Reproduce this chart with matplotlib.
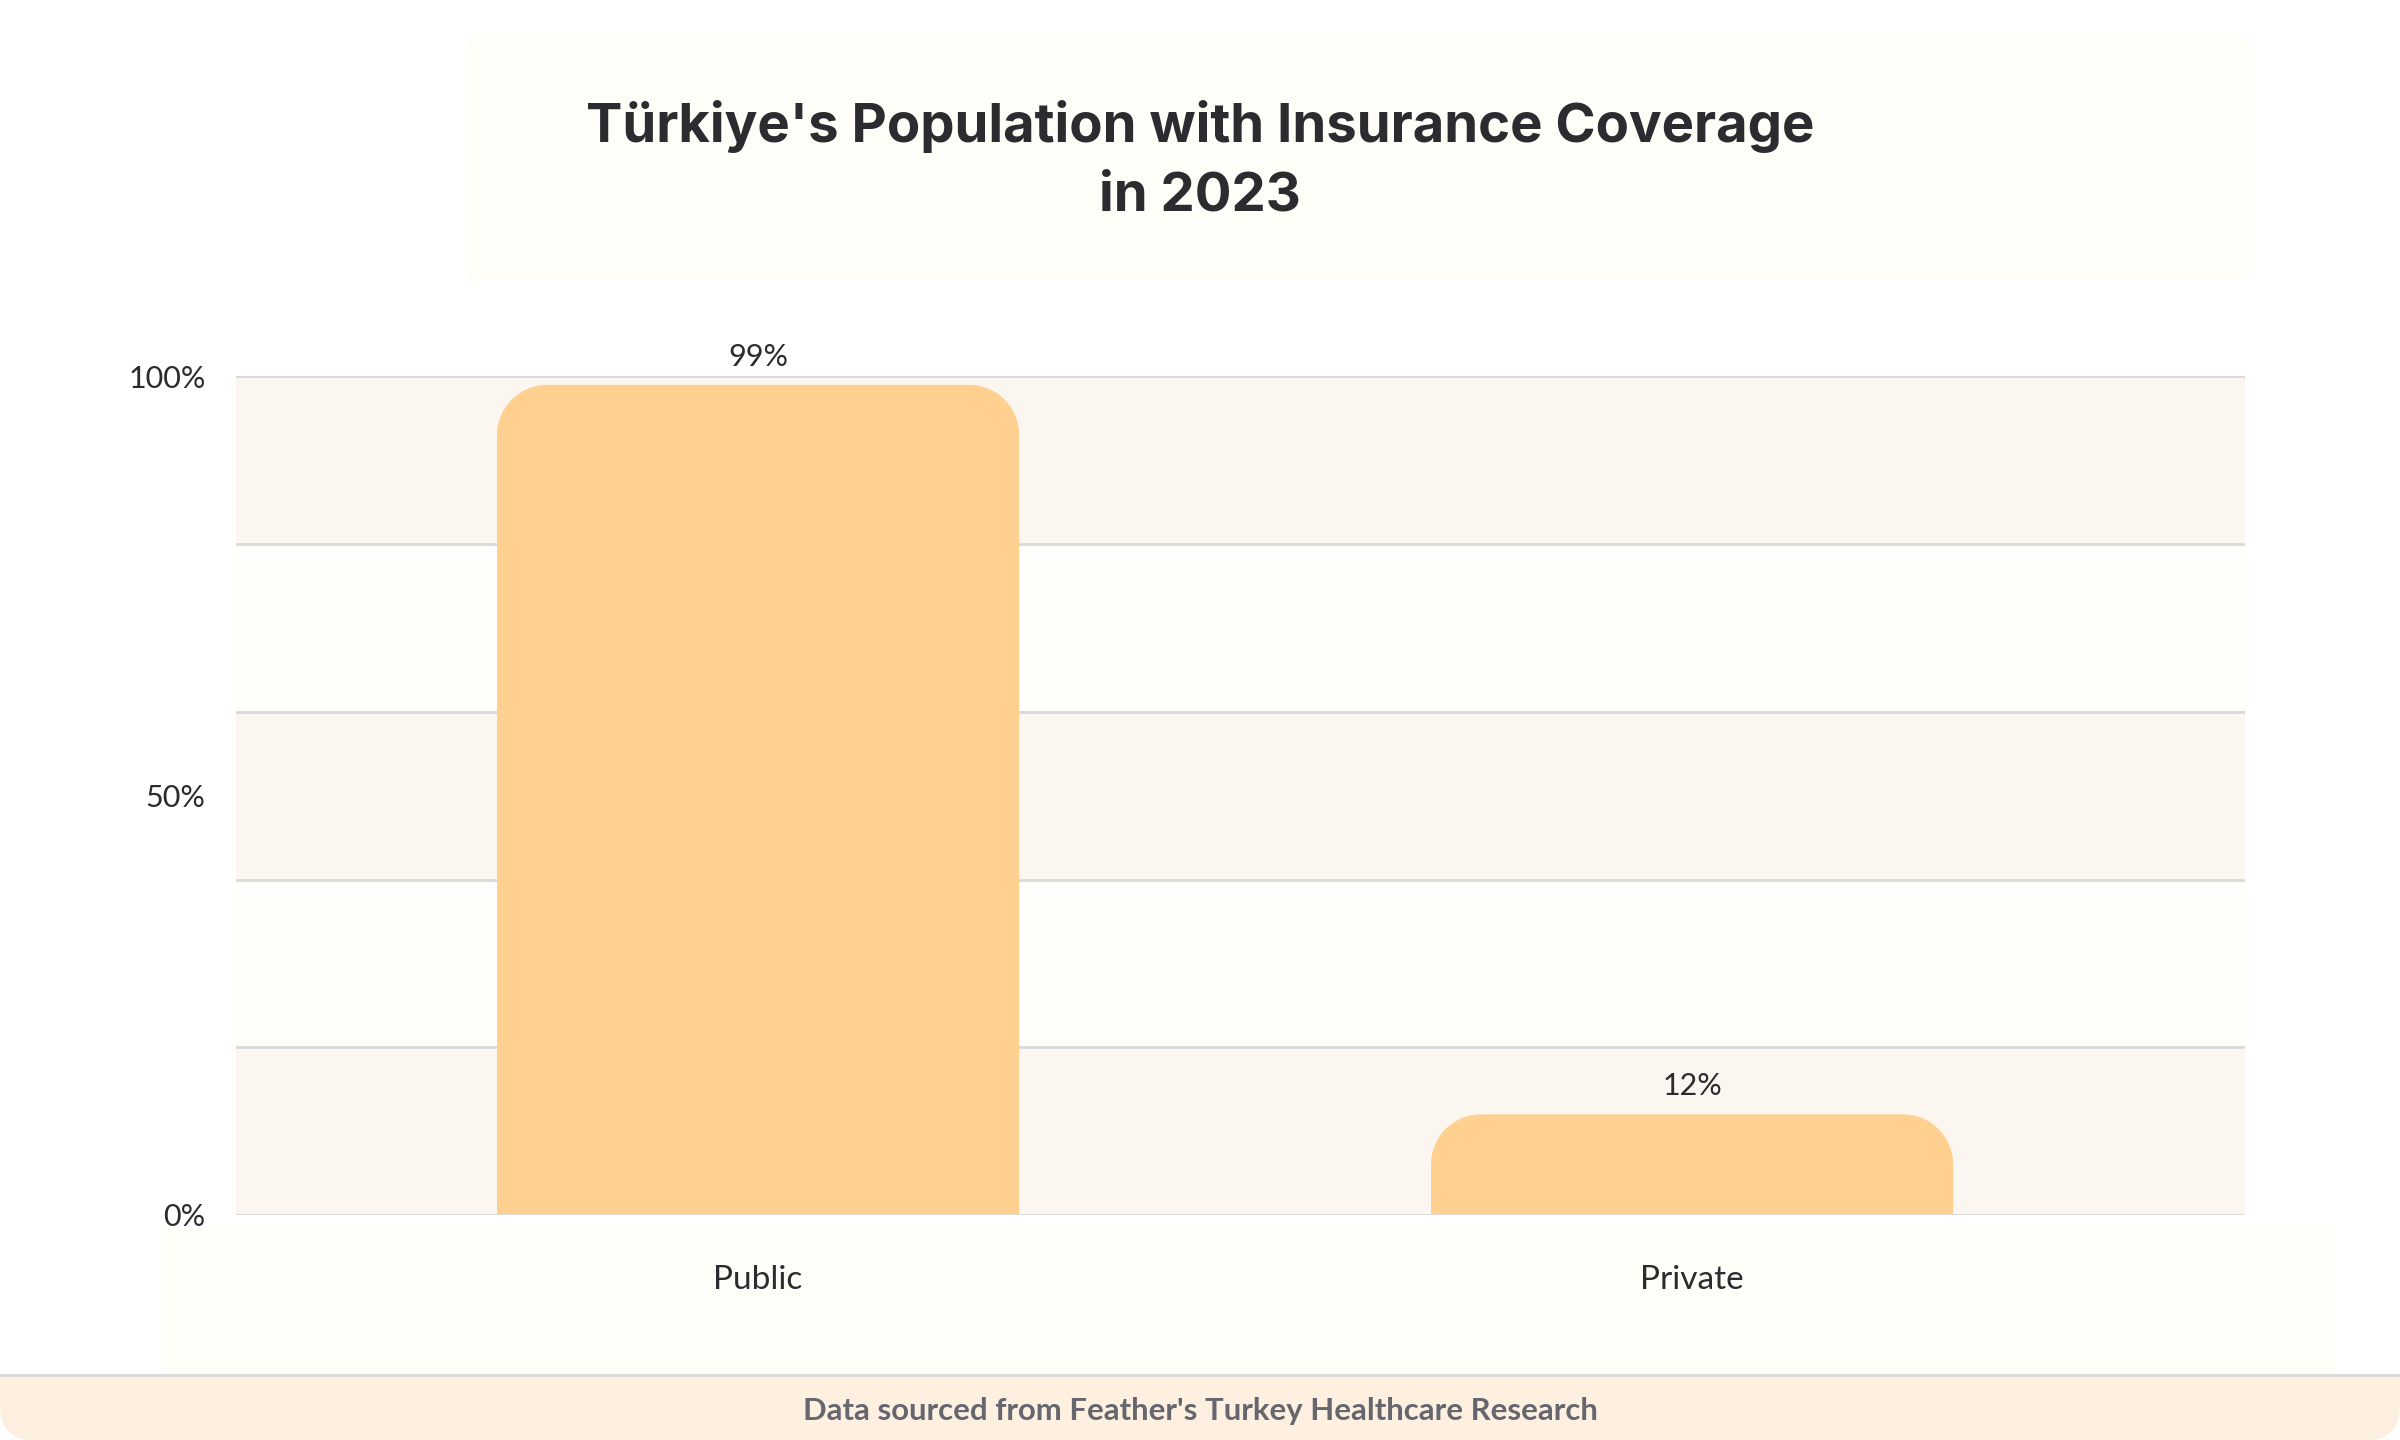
import numpy as np
import matplotlib
matplotlib.use("Agg")
import matplotlib.pyplot as plt
from matplotlib.patches import Rectangle, FancyBboxPatch, PathPatch
from matplotlib.path import Path

# data
categories = ["Public", "Private"]
coverage = [99, 12]
bar_labels = ["99%", "12%"]
ytick_values = [0, 50, 100]
ytick_labels = ["0%", "50%", "100%"]
grid_values = [0, 20, 40, 60, 80, 100]

title = "Türkiye's Population with Insurance Coverage\nin 2023"
source = "Data sourced from Feather's Turkey Healthcare Research"

bar_color = "#FFD08F"
band_color = "#FBF6EF"
panel_color = "#FFFDF8"
grid_color = "#D9D9D9"
text_color = "#2B2B30"

fig = plt.figure(figsize=(12, 7.2), dpi=200, facecolor="white")

# background panels (figure coords)
fig.patches.append(Rectangle((467 / 2400, 1 - 280 / 1440), (2250 - 467) / 2400, (280 - 38) / 1440,
                             transform=fig.transFigure, facecolor=panel_color, edgecolor="none", zorder=0))
fig.patches.append(Rectangle((161 / 2400, 1 - 1373 / 1440), (2335 - 161) / 2400, (1373 - 1227) / 1440,
                             transform=fig.transFigure, facecolor=panel_color, edgecolor="none", zorder=0))

# footer
fig.patches.append(FancyBboxPatch((0, 0), 1, 65 / 1440, boxstyle="round,pad=0,rounding_size=0.014",
                                  mutation_aspect=2400 / 1440,
                                  transform=fig.transFigure, facecolor="#FDF0E0", edgecolor="none", zorder=0))
fig.patches.append(Rectangle((0, 40 / 1440), 1, 25 / 1440, transform=fig.transFigure,
                             facecolor="#FDF0E0", edgecolor="none", zorder=0))
fig.add_artist(plt.Line2D([0, 1], [65 / 1440, 65 / 1440], transform=fig.transFigure,
                          color=grid_color, lw=1.0))
fig.text(0.5, 29 / 1440, source, ha="center", va="center", fontsize=11.2,
         fontweight="bold", color="#66666E", family="Lato")

fig.text(0.5, 1 - 161 / 1440, title, ha="center", va="center", fontsize=19.6,
         fontweight="bold", color=text_color, family="Inter", linespacing=1.47)

ax = fig.add_axes([236 / 2400, 0.15625, (2245 - 236) / 2400, 0.5823])
ax.set_zorder(1)
ax.set_facecolor("#FFFEFB")
for s in ax.spines.values():
    s.set_visible(False)

x = np.arange(len(categories))
ax.set_xlim(-0.559, 1.592)
ax.set_ylim(0, 100)

# alternating bands
for i in range(len(grid_values) - 1):
    if i % 2 == 0:
        ax.axhspan(grid_values[i], grid_values[i + 1], color=band_color, zorder=0, lw=0)
for g in grid_values:
    ax.axhline(g, color=grid_color, lw=1.0, zorder=1 if g else 4)

bars = ax.bar(x, coverage, width=0.559, color=bar_color, zorder=3)

# rounded top corners
fig.canvas.draw()
px_x = ax.transData.transform((1, 0))[0] - ax.transData.transform((0, 0))[0]
px_y = ax.transData.transform((0, 1))[1] - ax.transData.transform((0, 0))[1]
r_px = 50
for b in bars:
    x0, w, h = b.get_x(), b.get_width(), b.get_height()
    rx = r_px / px_x
    ry = min(r_px / px_y, h)
    t = np.linspace(0, np.pi / 2, 30)
    verts = [(x0, 0), (x0, h - ry)]
    verts += list(zip(x0 + rx - rx * np.cos(t), h - ry + ry * np.sin(t)))
    verts += list(zip(x0 + w - rx + rx * np.sin(t), h - ry + ry * np.cos(t)))
    verts += [(x0 + w, 0), (x0, 0)]
    ax.add_patch(PathPatch(Path(verts), facecolor=bar_color, edgecolor="none", zorder=3))
    b.remove()

for xi, v, lab in zip(x, coverage, bar_labels):
    ax.annotate(lab, (xi, v), xytext=(0, 5), textcoords="offset points", ha="center",
                va="bottom", fontsize=11, color=text_color, family="Lato")

ax.set_yticks(ytick_values)
ax.set_yticklabels(ytick_labels, family="Lato", fontsize=11, color=text_color)
ax.set_xticks(x)
ax.set_xticklabels(categories, family="Lato", fontsize=12, color=text_color)
ax.tick_params(axis="y", length=0, pad=11)
ax.tick_params(axis="x", length=0, pad=18)

fig.savefig("out.png", dpi=200, facecolor="white")
